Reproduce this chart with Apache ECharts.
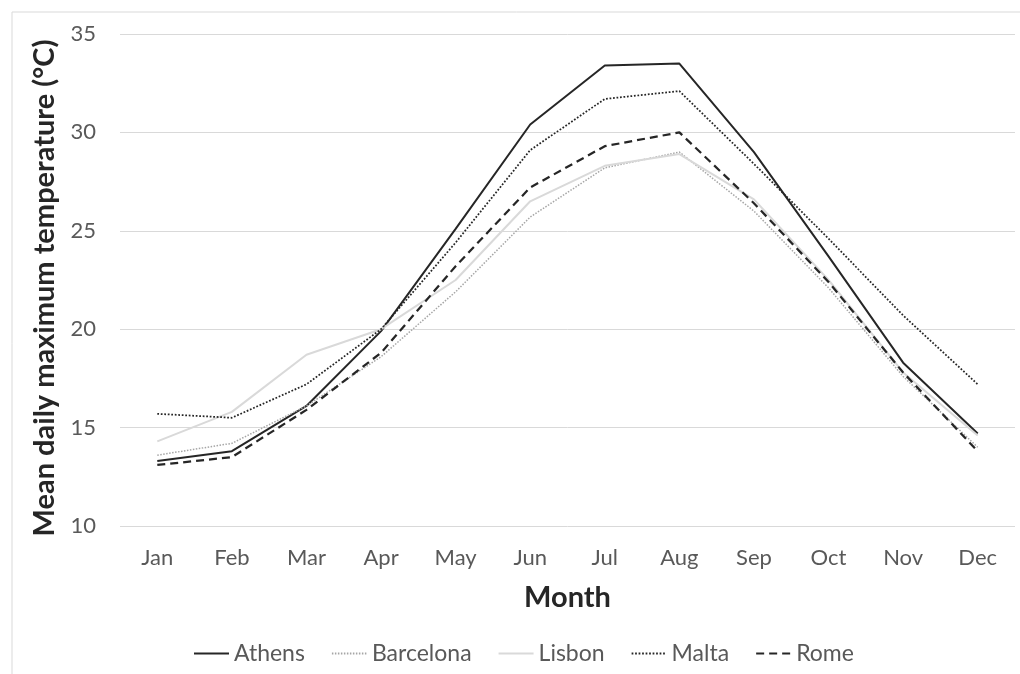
<!DOCTYPE html>
<html>
<head>
<meta charset="utf-8">
<script src="https://cdn.jsdelivr.net/npm/echarts@6/dist/echarts.min.js"></script>
<style>
html,body{margin:0;padding:0;background:#fff;}
#c{width:1020px;height:674px;}
</style>
</head>
<body>
<div id="c"></div>
<script>
const months = ['Jan','Feb','Mar','Apr','May','Jun','Jul','Aug','Sep','Oct','Nov','Dec'];
const athens    = [13.3,13.8,16.1,19.9,25.1,30.4,33.4,33.5,29.0,23.7,18.3,14.7];
const barcelona = [13.6,14.2,16.1,18.6,21.9,25.7,28.2,29.0,26.0,22.1,17.6,14.0];
const lisbon    = [14.3,15.8,18.7,20.0,22.5,26.5,28.3,28.9,26.6,22.5,17.8,14.6];
const malta     = [15.7,15.5,17.2,20.0,24.4,29.1,31.7,32.1,28.4,24.6,20.7,17.2];
const rome      = [13.1,13.5,15.9,18.8,23.2,27.2,29.3,30.0,26.4,22.4,17.8,13.8];
const yTicks = [10,15,20,25,30,35];

const FONT = 'Lato';
const chart = echarts.init(document.getElementById('c'), null, {renderer:'canvas'});

function line(name, data, color, width, type) {
  return {
    name: name, type: 'line', data: data, symbol: 'none',
    lineStyle: {color: color, width: width, type: type, cap: 'butt'},
    itemStyle: {color: color},
    emphasis: {disabled: true},
    animation: false
  };
}

chart.setOption({
  animation: false,
  backgroundColor: '#fff',
  textStyle: {fontFamily: FONT},
  graphic: [{
    type: 'rect', left: 9.5, top: 9.5, silent: true,
    shape: {x: 0, y: 0, width: 1100, height: 800},
    style: {fill: 'none', stroke: '#d9d9d9', lineWidth: 1}
  }],
  grid: {left: 120, right: 5, top: 34, bottom: 148, containLabel: false},
  legend: {
    left: 193, top: 642, padding: 0,
    itemWidth: 35, itemHeight: 14, itemGap: 26,
    itemStyle: {color: 'rgba(0,0,0,0)', borderWidth: 0, opacity: 0},
    textStyle: {fontFamily: FONT, fontSize: 23, color: '#595959'},
    data: ['Athens','Barcelona','Lisbon','Malta','Rome']
  },
  xAxis: {
    type: 'category', data: months, boundaryGap: true,
    axisLine: {show: false}, axisTick: {show: false},
    axisLabel: {fontFamily: FONT, fontSize: 22, color: '#595959', margin: 21},
    name: 'Month', nameLocation: 'middle', nameGap: 57,
    nameTextStyle: {fontFamily: FONT, fontSize: 29, fontWeight: 'bold', color: '#262626'}
  },
  yAxis: {
    type: 'value', min: yTicks[0], max: yTicks[yTicks.length-1], interval: 5,
    axisLine: {show: false}, axisTick: {show: false},
    axisLabel: {fontFamily: FONT, fontSize: 22, color: '#595959', margin: 24},
    splitLine: {lineStyle: {color: '#d9d9d9', width: 1}},
    name: 'Mean daily maximum temperature (°C)', nameLocation: 'middle', nameGap: 58, nameRotate: 90,
    nameTextStyle: {fontFamily: FONT, fontSize: 29, fontWeight: 'bold', color: '#262626', padding: [0, 16, 0, 0]}
  },
  series: [
    line('Athens', athens, '#262626', 2, 'solid'),
    line('Barcelona', barcelona, '#a6a6a6', 1.5, [1.5,1.5]),
    line('Lisbon', lisbon, '#d9d9d9', 2, 'solid'),
    line('Malta', malta, '#262626', 1.75, [1.75,1.75]),
    line('Rome', rome, '#262626', 2.25, [8,5])
  ]
});
</script>
</body>
</html>
